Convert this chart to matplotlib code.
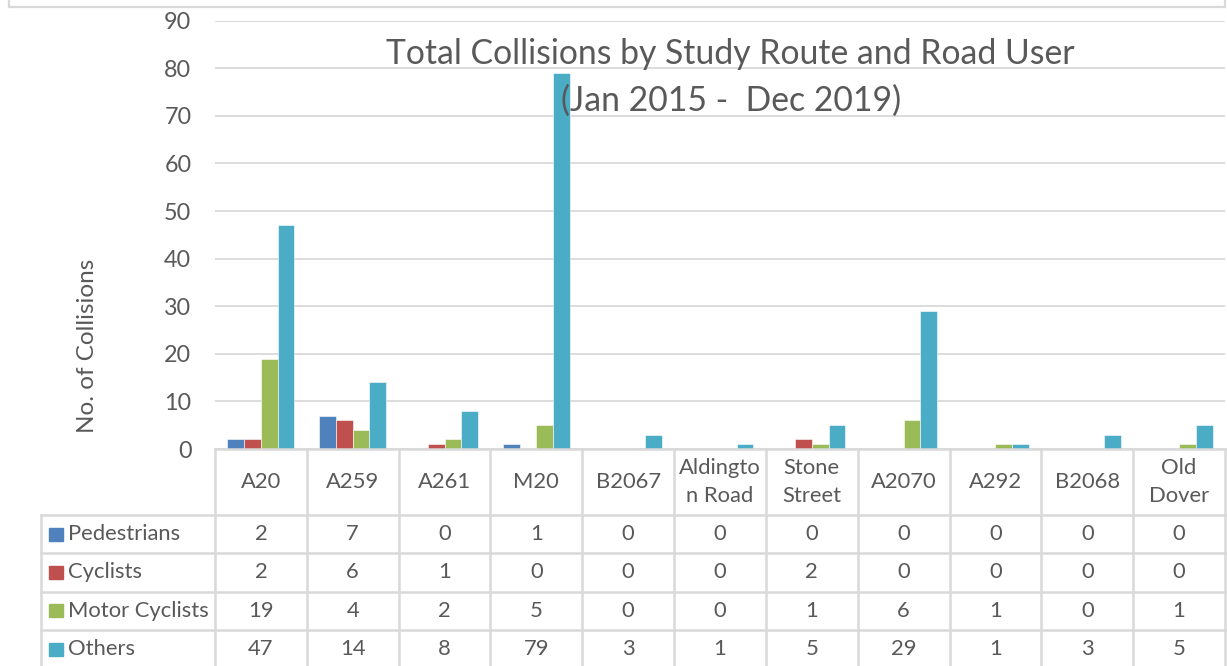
import matplotlib
matplotlib.use("Agg")
import matplotlib.pyplot as plt
from matplotlib.lines import Line2D
from matplotlib.patches import Rectangle
import numpy as np

plt.rcParams['font.family'] = ['Lato', 'DejaVu Sans']

routes = ['A20', 'A259', 'A261', 'M20', 'B2067', 'Aldingto\nn Road',
          'Stone\nStreet', 'A2070', 'A292', 'B2068', 'Old\nDover']
series = ['Pedestrians', 'Cyclists', 'Motor Cyclists', 'Others']
pedestrians = [2, 7, 0, 1, 0, 0, 0, 0, 0, 0, 0]
cyclists = [2, 6, 1, 0, 0, 0, 2, 0, 0, 0, 0]
motor_cyclists = [19, 4, 2, 5, 0, 0, 1, 6, 1, 0, 1]
others = [47, 14, 8, 79, 3, 1, 5, 29, 1, 3, 5]
values = [pedestrians, cyclists, motor_cyclists, others]
colors = ['#4F81BD', '#C0504D', '#9BBB59', '#4BACC6']

TXT = '#595959'
GRID = '#D9D9D9'
W, H = 1227, 666
FS = 15.8

fig = plt.figure(figsize=(W / 100, H / 100), dpi=100)

# chart frame
for xs, ys in [([8.7, 8.7], [0, 6.7]), ([8.7, 1225], [6.7, 6.7]), ([1225, 1225], [6.7, 0])]:
    fig.add_artist(Line2D([x / W for x in xs], [1 - y / H for y in ys],
                          transform=fig.transFigure, color=GRID, lw=1.6))

# plot area
x0, x1, y_top, y_zero = 215, 1225, 20.7, 449
ax = fig.add_axes([x0 / W, 1 - y_zero / H, (x1 - x0) / W, (y_zero - y_top) / H])
x = np.arange(len(routes))
bw = 0.182
for i, (name, vals, c) in enumerate(zip(series, values, colors)):
    ax.bar(x + (i - 1.5) * bw, vals, bw, color=c, edgecolor='white', linewidth=0.4, zorder=3)
ax.set_xlim(-0.5, len(routes) - 0.5)
ax.set_ylim(0, 90)
ax.set_yticks(range(0, 91, 10))
ax.yaxis.grid(True, color=GRID, lw=1.3, zorder=0)
ax.tick_params(axis='y', length=0, pad=17, labelsize=16.8, labelcolor=TXT)
ax.set_xticks([])
for s in ax.spines.values():
    s.set_visible(False)

fig.text(88 / W, 1 - 346 / H, 'No. of Collisions', rotation=90, ha='center', va='center',
         fontsize=17.5, color=TXT)

fig.text(730 / W, 1 - 54 / H, 'Total Collisions by Study Route and Road User',
         ha='center', va='center', fontsize=24.3, color=TXT)
fig.text(731 / W, 1 - 101 / H, '(Jan 2015 -  Dec 2019)',
         ha='center', va='center', fontsize=24.3, color=TXT)

# data table below the axis
tab = fig.add_axes([x0 / W, 0, (x1 - x0) / W, (H - y_zero) / H])
tab.set_xlim(-0.5, len(routes) - 0.5)
tab.set_ylim(H - y_zero, 0)
tab.axis('off')
colw = (x1 - x0) / len(routes)
left = -0.5 - (x0 - 41) / colw
head_h = 66
row_h = 38.3
row_y = [head_h + k * row_h for k in range(len(series) + 1)]

lk = dict(color=GRID, lw=1.8, clip_on=False)
tab.plot([-0.5, len(routes) - 0.5], [0, 0], **lk)
for yy in row_y[:-1]:
    tab.plot([left, len(routes) - 0.5], [yy, yy], **lk)
for k in range(len(routes) + 1):
    tab.plot([k - 0.5, k - 0.5], [0, H], **lk)
tab.plot([left, left], [head_h, H], **lk)

for k, r in enumerate(routes):
    tab.text(k, head_h / 2, r, ha='center', va='center', fontsize=FS,
             color=TXT, linespacing=1.45)
for j, (name, vals, c) in enumerate(zip(series, values, colors)):
    yc = row_y[j] + row_h / 2
    kx = left + 8 / colw
    tab.add_patch(Rectangle((kx, yc - 6.5), 14 / colw, 13, color=c, clip_on=False))
    tab.text(left + 27 / colw, yc, name, ha='left', va='center', fontsize=FS, color=TXT)
    for k, v in enumerate(vals):
        tab.text(k, yc, str(v), ha='center', va='center', fontsize=FS, color=TXT)

fig.savefig('out.png', dpi=100)
